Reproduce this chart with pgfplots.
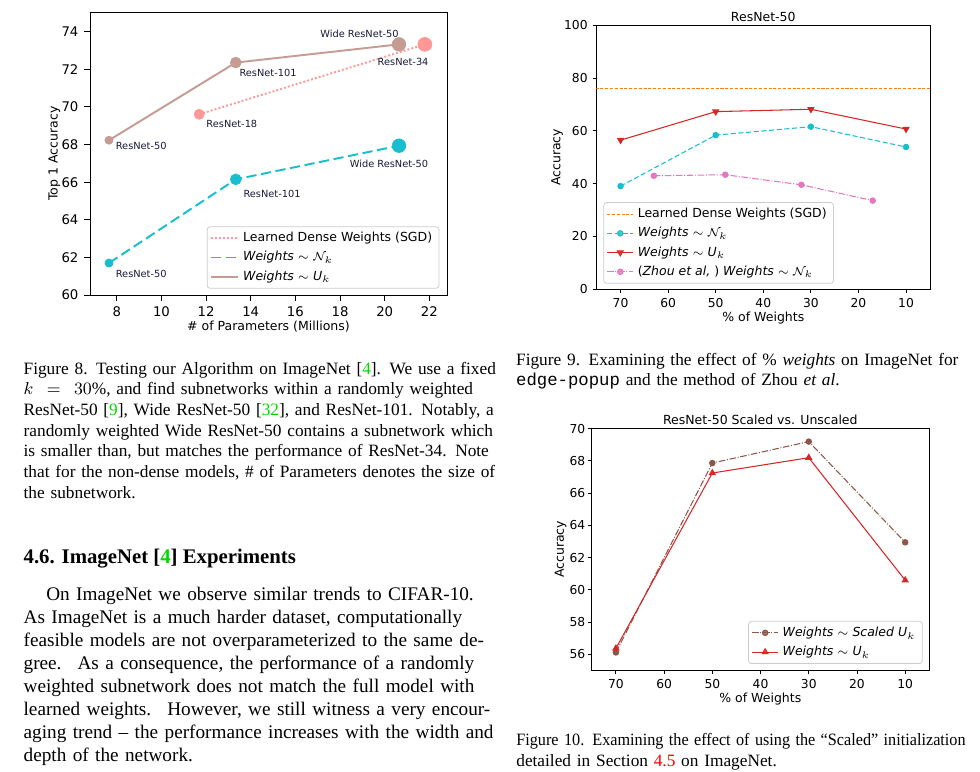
\documentclass[border=0pt]{standalone}
\usepackage{fontspec}
\setmainfont{Liberation Serif}
\setmonofont{Liberation Mono}
\newfontfamily\plotfont{DejaVu Sans}
\usepackage{graphicx}
\usepackage{pgfplots}
\pgfplotsset{compat=1.18}
\definecolor{tcyan}{HTML}{17BECF}
\definecolor{tsalmon}{HTML}{FF9896}
\definecolor{tlbrown}{HTML}{C49C94}
\definecolor{torange}{HTML}{FF7F0E}
\definecolor{tred}{HTML}{D62728}
\definecolor{tpink}{HTML}{E377C2}
\definecolor{tbrown}{HTML}{8C564B}
\definecolor{citegreen}{rgb}{0,0.85,0}
\definecolor{annot}{rgb}{0.1,0.1,0.22}
\newcommand\pf{\plotfont\fontsize{6.5}{7.5}\selectfont}
\newcommand\jl[1]{\hbox to \linewidth{#1}}
\newcommand\sq[1]{\hbox to \linewidth{\resizebox{\linewidth}{\height}{#1}}}
\pgfplotsset{
  mplstyle/.style={
    scale only axis,
    axis line style={black, line width=0.5pt},
    tick align=outside,
    tick pos=left,
    major tick length=1.9pt,
    every tick/.style={black, line width=0.5pt},
    /pgf/number format/assume math mode=true,
    tick label style={font=\plotfont\fontsize{6.4}{7}\selectfont},
    xticklabel style={yshift=0.5pt},
    yticklabel style={xshift=0.9pt},
    label style={font=\pf},
    title style={font=\pf},
    legend style={font=\pf, draw=black!20, line width=0.4pt, rounded corners=1.5pt, fill=white, fill opacity=0.8, text opacity=1,
      inner xsep=1.5pt, inner ysep=1pt, row sep=0pt,
      nodes={text height=5.2pt, text depth=1.6pt, inner ysep=1.6pt}},
    legend cell align=left,
    legend image code/.code={\draw[mark repeat=2,mark phase=2,##1] plot coordinates {(0cm,0cm) (0.24cm,0cm) (0.48cm,0cm)};},
  },
}
\begin{document}
\begin{tikzpicture}
\path[use as bounding box] (0,0) rectangle (509.6pt,-401.44pt);

% ---------------- Figure 8 ----------------
\begin{axis}[mplstyle, at={(46.8pt,-6.24pt)}, anchor=north west, width=185.64pt, height=147.16pt,
  xmin=6.8, xmax=22.79, ymin=60, ymax=75.05,
  xtick={8,10,...,22}, ytick={60,62,...,74},
  major tick length=3pt,
  tick label style={font=\plotfont\fontsize{6.9}{7.5}\selectfont},
  xticklabel style={yshift=0pt},
  yticklabel style={xshift=-0.4pt},
  xlabel={\# of Parameters (Millions)}, ylabel={Top 1 Accuracy},
  xlabel style={at={(axis description cs:0.5,-0.1264)}, anchor=base},
  ylabel style={at={(axis description cs:-0.091,0.5)}, anchor=base},
  legend style={at={(axis description cs:0.9784,0.0223)}, anchor=south east},
  legend image code/.code={\draw[#1] (0cm,0cm) -- (0.5cm,0cm);},
]
\addplot[tsalmon, line width=1pt, dash pattern=on 1pt off 1.1pt] coordinates {(11.69,69.61) (21.8,73.33)};
\addlegendentry{Learned Dense Weights (SGD)}
\addplot[color=tcyan, line width=1pt, dash pattern=on 5.3pt off 2.4pt] coordinates {(7.65,61.7) (13.33,66.15) (20.64,67.94)};
\addlegendentry{\textit{Weights} $\sim$ $\mathcal{N}_k$}
\addplot[tlbrown, line width=1pt] coordinates {(7.65,68.23) (13.33,72.36) (20.64,73.33)};
\addlegendentry{\textit{Weights} $\sim$ \textit{U}$_k$}
% markers (size grows with model size)
\addplot[forget plot, only marks, mark=*, color=tsalmon, mark size=2.6pt] coordinates {(11.69,69.61)};
\addplot[forget plot, only marks, mark=*, color=tsalmon, mark size=3.6pt] coordinates {(21.8,73.33)};
\addplot[forget plot, only marks, mark=*, color=tcyan, mark size=2.1pt] coordinates {(7.65,61.7)};
\addplot[forget plot, only marks, mark=*, color=tcyan, mark size=2.8pt] coordinates {(13.33,66.15)};
\addplot[forget plot, only marks, mark=*, color=tcyan, mark size=3.5pt] coordinates {(20.64,67.94)};
\addplot[forget plot, only marks, mark=*, color=tlbrown, mark size=2.1pt] coordinates {(7.65,68.23)};
\addplot[forget plot, only marks, mark=*, color=tlbrown, mark size=2.8pt] coordinates {(13.33,72.36)};
\addplot[forget plot, only marks, mark=*, color=tlbrown, mark size=3.5pt] coordinates {(20.64,73.33)};
\begin{scope}[every node/.style={anchor=west, inner sep=0pt, text=annot, font=\plotfont\fontsize{5.1}{6}\selectfont}]
\node at (axis cs:17.10,73.87) {Wide ResNet-50};
\node at (axis cs:13.48,71.79) {ResNet-101};
\node at (axis cs:19.67,72.38) {ResNet-34};
\node at (axis cs:12.0,69.08) {ResNet-18};
\node at (axis cs:7.94,67.93) {ResNet-50};
\node at (axis cs:18.42,66.97) {Wide ResNet-50};
\node at (axis cs:13.66,65.37) {ResNet-101};
\node at (axis cs:7.94,61.12) {ResNet-50};
\end{scope}
\end{axis}

% ---------------- Figure 9 ----------------
\begin{axis}[mplstyle, at={(310.08pt,-13.16pt)}, anchor=north west, width=173.68pt, height=137.28pt,
  x dir=reverse, xmin=4.9, xmax=75.1, ymin=0, ymax=100,
  xtick={10,20,...,70}, ytick={0,20,...,100},
  title={ResNet-50}, xlabel={\% of Weights}, ylabel={Accuracy},
  title style={at={(axis description cs:0.5,1.0219)}, anchor=base, yshift=-7pt},
  xlabel style={at={(axis description cs:0.5,-0.1231)}, anchor=base},
  ylabel style={at={(axis description cs:-0.1077,0.5)}, anchor=base},
  legend style={at={(axis description cs:0.021,0.33)}, anchor=north west},
]
\addplot[torange, line width=0.55pt, dash pattern=on 1.6pt off 0.9pt] coordinates {(4.9,76.1) (75.1,76.1)};
\addlegendentry{Learned Dense Weights (SGD)}
\addplot[tcyan, line width=0.55pt, dash pattern=on 2.6pt off 1.4pt, mark=*, mark size=1.4pt, mark options={solid}] coordinates {(70,39.1) (50,58.4) (30,61.6) (10,53.9)};
\addlegendentry{\textit{Weights} $\sim$ $\mathcal{N}_k$}
\addplot[tred, line width=0.55pt, mark=triangle*, mark size=1.7pt, mark options={solid, rotate=180}] coordinates {(70,56.5) (50,67.3) (30,68.2) (10,60.7)};
\addlegendentry{\textit{Weights} $\sim$ \textit{U}$_k$}
\addplot[tpink, line width=0.55pt, dash pattern=on 3.4pt off 0.9pt on 0.5pt off 0.9pt, mark=*, mark size=1.4pt, mark options={solid}] coordinates {(63,43.0) (48,43.4) (32,39.6) (17,33.6)};
\addlegendentry{(\textit{Zhou et al,} ) \textit{Weights} $\sim$ $\mathcal{N}_k$}
\end{axis}

% ---------------- Figure 10 ----------------
\begin{axis}[mplstyle, at={(307.48pt,-222.92pt)}, anchor=north west, width=175.76pt, height=125.48pt,
  x dir=reverse, xmin=5.0, xmax=75.1, ymin=55.03, ymax=70,
  xtick={10,20,...,70}, ytick={56,58,...,70},
  yticklabel style={xshift=1.4pt},
  title={ResNet-50 Scaled vs. Unscaled}, xlabel={\% of Weights}, ylabel={Accuracy},
  title style={at={(axis description cs:0.5,1.0239)}, anchor=base, yshift=-6.6pt},
  xlabel style={at={(axis description cs:0.5,-0.1331)}, anchor=base},
  ylabel style={at={(axis description cs:-0.0814,0.5)}, anchor=base},
  legend style={at={(axis description cs:0.9805,0.0249)}, anchor=south east},
]
\addplot[tbrown, line width=0.55pt, dash pattern=on 3.4pt off 0.9pt on 0.5pt off 0.9pt, mark=*, mark size=1.4pt, mark options={solid}] coordinates {(70,56.12) (50,67.87) (30,69.2) (10,62.95)};
\addlegendentry{\textit{Weights} $\sim$ \textit{Scaled U}$_k$}
\addplot[tred, line width=0.55pt, mark=triangle*, mark size=1.7pt, mark options={solid}] coordinates {(70,56.37) (50,67.25) (30,68.2) (10,60.6)};
\addlegendentry{\textit{Weights} $\sim$ \textit{U}$_k$}
\end{axis}

% ---------------- Text ----------------
\node[anchor=base west, inner sep=0pt, text width=233.7pt, font=\fontsize{9}{10.75}\selectfont] at (12.1pt,-194.6pt) {%
\jl{Figure 8. Testing our Algorithm on ImageNet [\textcolor{citegreen}{4}]. We use a fixed}
\jl{$k\ =\ 30\%$, and find subnetworks within a randomly weighted}
\jl{ResNet-50 [\textcolor{citegreen}{9}], Wide ResNet-50 [\textcolor{citegreen}{32}], and ResNet-101. Notably, a}
\jl{randomly weighted Wide ResNet-50 contains a subnetwork which}
\jl{is smaller than, but matches the performance of ResNet-34. Note}
\jl{that for the non-dense models, \# of Parameters denotes the size of}
\hbox{the subnetwork.}};

\node[anchor=base west, inner sep=0pt, font=\bfseries\fontsize{10.8}{13}\selectfont] at (12.1pt,-292.9pt)
  {4.6. ImageNet [\textcolor{citegreen}{4}] Experiments};

\node[anchor=base west, inner sep=0pt, text width=233.7pt, font=\fontsize{10}{12}\selectfont] at (12.1pt,-312pt) {%
\jl{\hspace*{11.8pt}On ImageNet we observe similar trends to CIFAR-10.}
\jl{As ImageNet is a much harder dataset, computationally}
\jl{feasible models are not overparameterized to the same de-}
\jl{gree. \ As a consequence, the performance of a randomly}
\jl{weighted subnetwork does not match the full model with}
\jl{learned weights. \ However, we still witness a very encour-}
\jl{aging trend -- the performance increases with the width and}
\hbox{depth of the network.}};

\node[anchor=base west, inner sep=0pt, text width=233.6pt, font=\fontsize{9}{10.9}\selectfont] at (268.2pt,-189.8pt) {%
\jl{Figure 9. Examining the effect of \% \textit{weights} on ImageNet for}
\hbox{\texttt{edge-popup} and the method of Zhou \textit{et al}.}};

\node[anchor=base west, inner sep=0pt, text width=233.6pt, font=\fontsize{9}{10.75}\selectfont] at (268.3pt,-387.9pt) {%
\sq{Figure 10. Examining the effect of using the ``Scaled'' initialization}
\hbox{detailed in Section \textcolor{red}{4.5} on ImageNet.}};
\end{tikzpicture}
\end{document}
